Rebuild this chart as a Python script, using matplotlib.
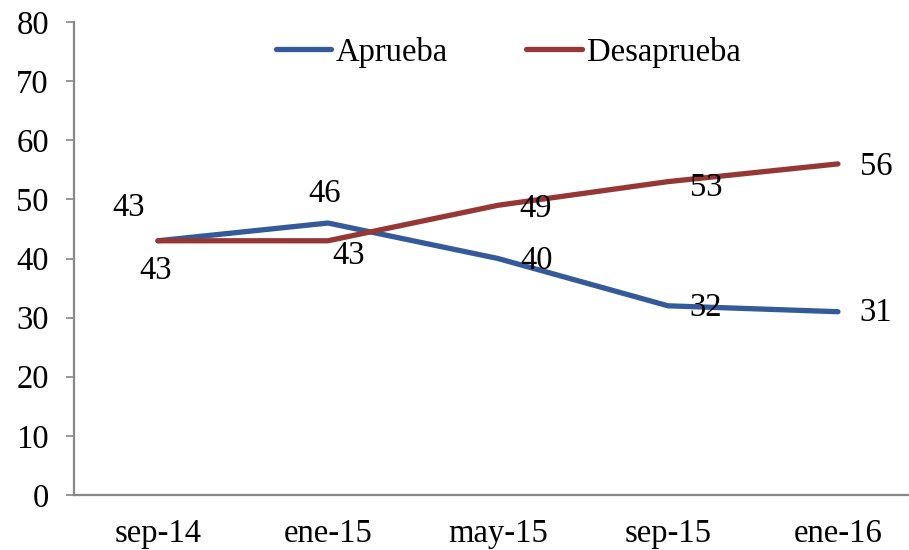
import matplotlib.pyplot as plt

fechas = ['sep-14', 'ene-15', 'may-15', 'sep-15', 'ene-16']
aprueba = [43, 46, 40, 32, 31]
desaprueba = [43, 43, 49, 53, 56]

# label offsets in pixels (dx, dy)
off_aprueba = [(-29, 33), (-3, 29), (39, -2), (38, -2), (38, -1)]
off_desaprueba = [(-2, -30), (21, -15), (38, -3), (38, -6), (38, -3)]

plt.rcParams['font.family'] = ['Liberation Serif', 'DejaVu Serif']
fs = 23.5

fig = plt.figure(figsize=(9.09, 5.5), dpi=100)
ax = fig.add_axes([74 / 909, 0.1, 1 - 74 / 909, 0.96 - 0.1])

x = list(range(len(fechas)))
ax.plot(x, aprueba, color='#345A9A', lw=3.8, label='Aprueba', solid_capstyle='round')
ax.plot(x, desaprueba, color='#953735', lw=3.8, label='Desaprueba', solid_capstyle='round')

for i in x:
    ax.annotate(str(aprueba[i]), (i, aprueba[i]), xytext=off_aprueba[i],
                textcoords='offset pixels', ha='center', va='center', fontsize=fs)
    ax.annotate(str(desaprueba[i]), (i, desaprueba[i]), xytext=off_desaprueba[i],
                textcoords='offset pixels', ha='center', va='center', fontsize=fs)

ax.set_xlim(-0.494, 4.418)
ax.set_ylim(0, 80)
ax.set_yticks(range(0, 81, 10))
ax.set_xticks(x)
ax.set_xticklabels(fechas)
ax.tick_params(axis='y', labelsize=fs, length=6, width=1.2, color='#888888', pad=12)
ax.tick_params(axis='x', labelsize=fs, length=0, pad=17)

for s in ['top', 'right']:
    ax.spines[s].set_visible(False)
for s in ['left', 'bottom']:
    ax.spines[s].set_color('#888888')
    ax.spines[s].set_linewidth(1.6)

fig.legend(loc='center', bbox_to_anchor=(0.559, 0.905), ncol=2, frameon=False,
           fontsize=fs, handlelength=1.7, handletextpad=0.15, columnspacing=2.4)

fig.savefig('out.png', dpi=100)
